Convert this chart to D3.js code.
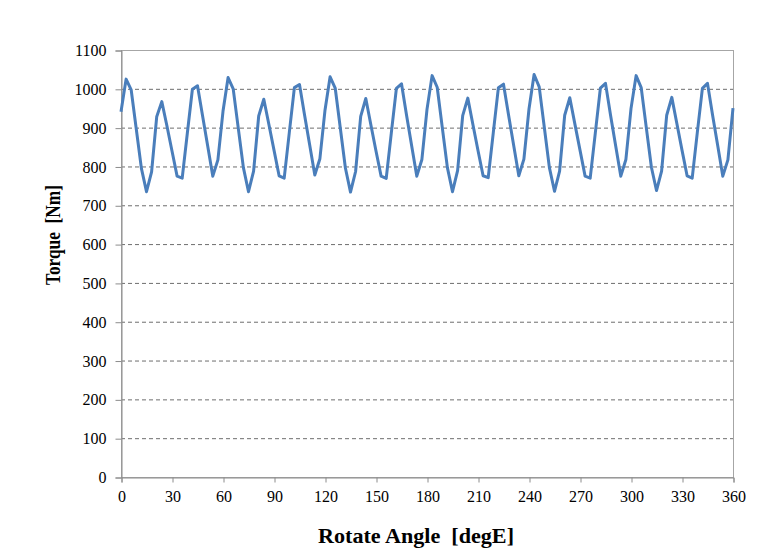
<!DOCTYPE html>
<html>
<head>
<meta charset="utf-8">
<script src="https://cdn.jsdelivr.net/npm/d3@7"></script>
<style>
  html, body { margin: 0; padding: 0; background: #fff; }
  svg { display: block; }
  text { font-family: "Liberation Serif", "Times New Roman", serif; fill: #000; }
</style>
</head>
<body>
<svg id="chart" width="782" height="554"></svg>
<script>
// ---- data ----
const angles = [
  0, 3, 6, 9, 12, 15, 18, 21, 24, 27, 30, 33, 36, 39, 42, 45, 48, 51, 54, 57,
  60, 63, 66, 69, 72, 75, 78, 81, 84, 87, 90, 93, 96, 99, 102, 105, 108, 111, 114, 117,
  120, 123, 126, 129, 132, 135, 138, 141, 144, 147, 150, 153, 156, 159, 162, 165, 168, 171, 174, 177,
  180, 183, 186, 189, 192, 195, 198, 201, 204, 207, 210, 213, 216, 219, 222, 225, 228, 231, 234, 237,
  240, 243, 246, 249, 252, 255, 258, 261, 264, 267, 270, 273, 276, 279, 282, 285, 288, 291, 294, 297,
  300, 303, 306, 309, 312, 315, 318, 321, 324, 327, 330, 333, 336, 339, 342, 345, 348, 351, 354, 357,
  360
];
const torque = [
  941, 1025, 997, 896, 795, 735, 786, 928, 967, 905, 840, 775, 770, 885, 999, 1008, 930, 853, 775, 817,
  942, 1029, 1000, 898, 797, 735, 788, 930, 973, 908, 842, 776, 770, 887, 1003, 1011, 932, 855, 778, 820,
  945, 1031, 1002, 899, 796, 734, 787, 929, 975, 907, 840, 775, 769, 886, 1001, 1013, 931, 853, 775, 818,
  947, 1034, 1004, 900, 797, 735, 789, 931, 976, 908, 841, 776, 771, 887, 1003, 1012, 932, 854, 776, 819,
  948, 1037, 1005, 901, 797, 736, 788, 932, 977, 909, 842, 775, 770, 886, 1002, 1014, 931, 853, 775, 818,
  949, 1034, 1003, 900, 798, 738, 788, 932, 978, 910, 842, 776, 770, 887, 1001, 1014, 932, 854, 775, 817,
  950
];
const xTicks = [0, 30, 60, 90, 120, 150, 180, 210, 240, 270, 300, 330, 360];
const yTicks = [0, 100, 200, 300, 400, 500, 600, 700, 800, 900, 1000, 1100];
const xTitle = "Rotate Angle  [degE]";
const yTitle = "Torque  [Nm]";

// ---- layout ----
const plot = { left: 121, right: 733, top: 50, bottom: 477 };
const svg = d3.select("#chart");
const serif = "'Liberation Serif', 'Times New Roman', serif";

const x = d3.scaleLinear().domain([0, 360]).range([plot.left, plot.right]);
const y = d3.scaleLinear().domain([0, 1100]).range([plot.bottom, plot.top]);

// gridlines
svg.append("g")
  .selectAll("line")
  .data(yTicks.filter(v => v > 0 && v < 1100))
  .join("line")
  .attr("x1", plot.left).attr("x2", plot.right)
  .attr("y1", d => y(d) + 0.5).attr("y2", d => y(d) + 0.5)
  .attr("stroke", "#6e6e6e")
  .attr("stroke-width", 1)
  .attr("stroke-dasharray", "4,3");

// plot border
svg.append("rect")
  .attr("x", plot.left + 0.5).attr("y", plot.top + 0.5)
  .attr("width", plot.right - plot.left).attr("height", plot.bottom - plot.top)
  .attr("fill", "none").attr("stroke", "#a6a6a6").attr("stroke-width", 1);

// axes
const yAxis = d3.axisLeft(y).tickValues(yTicks).tickSize(6).tickPadding(9).tickFormat(d3.format("d"));
const gy = svg.append("g").attr("transform", `translate(${plot.left + 0.5},0.5)`).call(yAxis);
gy.attr("font-family", serif).attr("font-size", 16);
gy.select(".domain").attr("stroke", "#8c8c8c");
gy.selectAll(".tick line").attr("stroke", "#8c8c8c");
gy.selectAll(".tick text").attr("font-family", serif).attr("font-size", 16).attr("fill", "#111");

const xAxis = d3.axisBottom(x).tickValues(xTicks).tickSize(5).tickPadding(8).tickFormat(d3.format("d"));
const gx = svg.append("g").attr("transform", `translate(0.5,${plot.bottom + 0.5})`).call(xAxis);
gx.attr("font-family", serif).attr("font-size", 16);
gx.select(".domain").attr("stroke", "#8c8c8c");
gx.selectAll(".tick line").attr("stroke", "#8c8c8c");
gx.selectAll(".tick text").attr("font-family", serif).attr("font-size", 16).attr("fill", "#111");

// line
const line = d3.line().x((d, i) => x(angles[i])).y(d => y(d));
svg.append("path")
  .datum(torque)
  .attr("d", line)
  .attr("fill", "none")
  .attr("stroke", "#4a7ebb")
  .attr("stroke-width", 3)
  .attr("stroke-linejoin", "round");

// titles
svg.append("text")
  .attr("x", 416)
  .attr("y", 543)
  .attr("text-anchor", "middle")
  .attr("font-family", serif)
  .attr("font-size", 21)
  .attr("font-weight", "bold")
  .attr("xml:space", "preserve")
  .style("white-space", "pre")
  .attr("textLength", 196)
  .attr("lengthAdjust", "spacingAndGlyphs")
  .text(xTitle);

svg.append("text")
  .attr("transform", `translate(60,235) rotate(-90)`)
  .attr("text-anchor", "middle")
  .attr("font-family", serif)
  .attr("font-size", 20)
  .attr("font-weight", "bold")
  .attr("xml:space", "preserve")
  .style("white-space", "pre")
  .attr("textLength", 100)
  .attr("lengthAdjust", "spacingAndGlyphs")
  .text(yTitle);
</script>
</body>
</html>
